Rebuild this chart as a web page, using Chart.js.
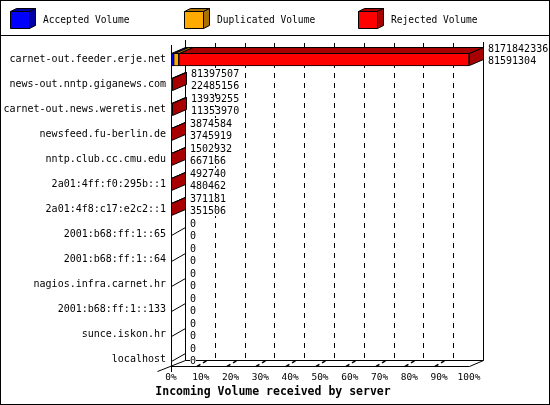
<!DOCTYPE html>
<html><head><meta charset="utf-8">
<script src="https://cdn.jsdelivr.net/npm/chart.js@4.4.1/dist/chart.umd.min.js"></script>
<style>html,body{margin:0;padding:0;background:#fff}canvas{display:block}</style>
</head><body>
<canvas id="c" width="550" height="405"></canvas>
<script>
const servers = ['carnet-out.feeder.erje.net','news-out.nntp.giganews.com','carnet-out.news.weretis.net','newsfeed.fu-berlin.de','nntp.club.cc.cmu.edu','2a01:4ff:f0:295b::1','2a01:4f8:c17:e2c2::1','2001:b68:ff:1::65','2001:b68:ff:1::64','nagios.infra.carnet.hr','2001:b68:ff:1::133','sunce.iskon.hr','localhost'];
// bar lengths, percent of the largest server volume
const acceptedPct   = [0.9, 0, 0, 0, 0, 0, 0, 0, 0, 0, 0, 0, 0];
const duplicatedPct = [1.7, 0, 0, 0, 0, 0, 0, 0, 0, 0, 0, 0, 0];
const rejectedPct   = [97.4, 0.35, 0.2, 0.05, 0.02, 0.01, 0.01, 0, 0, 0, 0, 0, 0];
const volumeTop    = ['8171842336','81397507','13939255','3874584','1502932','492740','371181','0','0','0','0','0','0'];
const volumeBottom = ['81591304','22485156','11353970','3745919','667166','480462','351506','0','0','0','0','0','0'];
const xTicks = [0,10,20,30,40,50,60,70,80,90,100];
const seriesNames = ['Accepted Volume','Duplicated Volume','Rejected Volume'];
const axisTitle = 'Incoming Volume received by server';

const frontColors = ['#0000ff','#ffaa00','#ff0000'];
const sideColors  = ['#0000a8','#a87000','#a80000'];
const DX = 14, DY = -6;
const MONO = '"DejaVu Sans Mono", "Liberation Mono", monospace';

function poly(ctx, pts, fill) {
  ctx.beginPath();
  ctx.moveTo(pts[0][0], pts[0][1]);
  for (let i = 1; i < pts.length; i++) ctx.lineTo(pts[i][0], pts[i][1]);
  ctx.closePath();
  if (fill) { ctx.fillStyle = fill; ctx.fill(); }
  ctx.strokeStyle = '#000'; ctx.lineWidth = 1; ctx.stroke();
}
function line(ctx, x1, y1, x2, y2) {
  ctx.beginPath(); ctx.moveTo(x1, y1); ctx.lineTo(x2, y2); ctx.stroke();
}
function label(ctx, txt, x, y) {
  const w = ctx.measureText(txt).width;
  ctx.fillStyle = '#fff';
  ctx.fillRect(x, Math.round(y) - 4, w, 9);
  ctx.fillStyle = '#000';
  ctx.fillText(txt, x, y);
}

const threeD = {
  id: 'threeD',
  beforeDraw(chart) {
    const ctx = chart.ctx;
    ctx.save(); ctx.fillStyle = '#fff'; ctx.fillRect(0, 0, chart.width, chart.height); ctx.restore();
  },
  beforeDatasetsDraw(chart) {
    const {ctx, chartArea: a, scales: {x, y}} = chart;
    const L = Math.round(a.left) + 0.5, R = Math.round(a.right) + 0.5;
    const fy = Math.round(a.bottom) - 6 + 0.5, by = fy + DY;
    ctx.save();
    ctx.strokeStyle = '#000'; ctx.lineWidth = 1;
    // dashed grid on the back wall
    ctx.setLineDash([5, 5]);
    xTicks.forEach(v => {
      if (v === 0 || v === 100) return;
      const xb = Math.round(x.getPixelForValue(v)) + DX + 0.5;
      line(ctx, xb, a.top - 4, xb, by);
    });
    ctx.setLineDash([]);
    // back wall edges
    line(ctx, L + DX, a.top - 7, L + DX, by);
    line(ctx, R + DX, a.top - 5, R + DX, by);
    // floor
    line(ctx, L + DX, by, R + DX, by);
    line(ctx, L, fy, R, fy);
    line(ctx, R + DX, by, R, fy);
    line(ctx, L + DX, by, L - 14, fy + 5);
    // floor ticks
    ctx.lineWidth = 1.5;
    ctx.setLineDash([4, 3]);
    xTicks.forEach(v => {
      if (v === 0 || v === 100) return;
      const xf = Math.round(x.getPixelForValue(v));
      line(ctx, xf - 4, fy, xf + 6, fy - 6);
    });
    ctx.setLineDash([]);
    ctx.lineWidth = 1;
    // front axis
    line(ctx, L, a.top - 2, L, a.bottom);
    // empty rows: edge of the flat side face
    servers.forEach((s, i) => {
      if (acceptedPct[i] + duplicatedPct[i] + rejectedPct[i] > 0) return;
      const c = Math.round(y.getPixelForValue(i)) + 0.5;
      line(ctx, L, c + 1, L + DX, c - 7);
    });
    ctx.restore();
  },
  afterDatasetsDraw(chart) {
    const {ctx, chartArea: a, scales: {x, y}} = chart;
    ctx.save();
    const vals = [acceptedPct, duplicatedPct, rejectedPct];
    servers.forEach((s, i) => {
      const c = y.getPixelForValue(i);
      let endX = Math.round(a.left) + 0.5, last = -1, top = 0, h = 0;
      vals.forEach((arr, d) => {
        if (arr[i] <= 0) return;
        const el = chart.getDatasetMeta(d).data[i];
        const l = Math.round(Math.min(el.x, el.base)) + 0.5;
        const r = Math.round(Math.max(el.x, el.base)) + 0.5;
        top = Math.round(el.y - el.height / 2) + 0.5;
        h = Math.round(el.height) - 1;
        poly(ctx, [[l, top], [r, top], [r + DX, top + DY], [l + DX, top + DY]], sideColors[d]);
        endX = r; last = d;
      });
      if (last >= 0) {
        poly(ctx, [[endX, top], [endX + DX, top + DY], [endX + DX, top + h + DY], [endX, top + h]], sideColors[last]);
      }
      // value labels
      ctx.font = '10px ' + MONO;
      ctx.textAlign = 'left'; ctx.textBaseline = 'middle';
      const tx = Math.round(endX) + DX + 4;
      label(ctx, volumeTop[i], tx, c - 10);
      label(ctx, volumeBottom[i], tx, c + 1.5);
    });
    // legend
    const lx = [10, 184, 358];
    seriesNames.forEach((n, k) => {
      const x0 = lx[k] + 0.5, y0 = 11.5, w = 19, hh = 17, d = 6, dd = 3;
      poly(ctx, [[x0, y0], [x0 + w, y0], [x0 + w + d, y0 - dd], [x0 + d, y0 - dd]], sideColors[k]);
      poly(ctx, [[x0 + w, y0], [x0 + w + d, y0 - dd], [x0 + w + d, y0 + hh - dd], [x0 + w, y0 + hh]], sideColors[k]);
      poly(ctx, [[x0, y0], [x0 + w, y0], [x0 + w, y0 + hh], [x0, y0 + hh]], frontColors[k]);
      ctx.fillStyle = '#000';
      ctx.font = '9.6px ' + MONO;
      ctx.textAlign = 'left'; ctx.textBaseline = 'middle';
      ctx.fillText(n, lx[k] + 33, 20);
    });
    // axis title
    ctx.font = 'bold 11.5px ' + MONO;
    ctx.textAlign = 'center'; ctx.textBaseline = 'middle';
    ctx.fillStyle = '#000';
    ctx.fillText(axisTitle, 273, 392);
    // frame
    ctx.strokeStyle = '#000'; ctx.lineWidth = 1;
    line(ctx, 0, 35.5, 550, 35.5);
    ctx.strokeRect(0.5, 0.5, 549, 404);
    ctx.restore();
  }
};

new Chart(document.getElementById('c'), {
  type: 'bar',
  data: {
    labels: servers,
    datasets: [
      {label: seriesNames[0], data: acceptedPct, backgroundColor: frontColors[0]},
      {label: seriesNames[1], data: duplicatedPct, backgroundColor: frontColors[1]},
      {label: seriesNames[2], data: rejectedPct, backgroundColor: frontColors[2]}
    ].map(ds => Object.assign(ds, {borderColor: '#000', borderWidth: 1, borderSkipped: false, barThickness: 13}))
  },
  options: {
    indexAxis: 'y',
    responsive: false,
    animation: false,
    devicePixelRatio: 1,
    layout: {padding: {left: 0, top: 47, right: 81, bottom: 0}},
    plugins: {legend: {display: false}, tooltip: {enabled: false}},
    scales: {
      x: {
        type: 'linear', min: 0, max: 100, stacked: true,
        grid: {display: false, drawTicks: false, tickLength: 0}, border: {display: false},
        afterBuildTicks: s => { s.ticks = xTicks.map(v => ({value: v})); },
        ticks: {callback: v => v + '%', color: '#000', font: {family: MONO, size: 9.5}, padding: 0, maxRotation: 0, autoSkip: false},
        afterFit: s => { s.height = 33; }
      },
      y: {
        stacked: true,
        grid: {display: false, drawTicks: false, tickLength: 0}, border: {display: false},
        ticks: {color: '#000', font: {family: MONO, size: 10}, padding: 5, autoSkip: false},
        afterFit: s => { s.width = 171; }
      }
    }
  },
  plugins: [threeD]
});
</script>
</body></html>
